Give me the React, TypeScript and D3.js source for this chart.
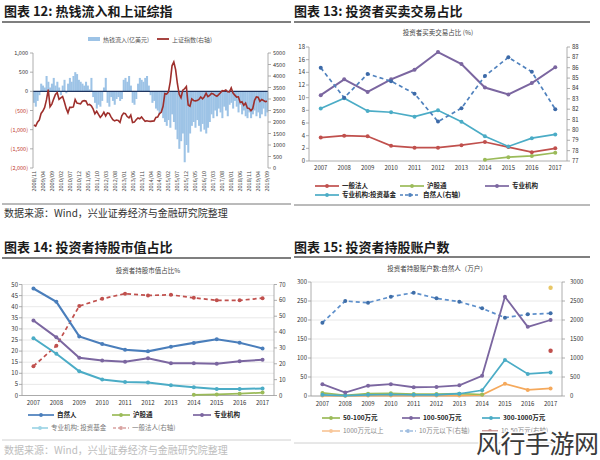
import React from "react";
import * as d3 from "d3";

const FONT = "'Noto Sans CJK SC', 'Noto Sans', sans-serif";

// ---------- Chart 12 data (monthly, 2008/11 - 2019/09) ----------
const hotMoney = [
  -300, -400,
  -250, -100, 200, 150, 100, 400, 250, 100, 200, 350, 150, 250,
  100, -100, 150, 300, -50, 200, 350, 250, 400, 500, 450, 300,
  250, 200, 150, 250, 150, 50, 350, -150, -300, -450, -350, -400,
  -250, 100, 350, -300, -400, -150, -250, -350, -200, -150, -250, -200,
  300, 350, 250, 400, 150, -300, -350, -200, 200, 350, 300, 250,
  350, 400, 150, -100, -300, -250, -450, -500, -600, -550, -700, -800,
  -900, -750, -950, -600, -800, -1000, -1250, -1500, -1300, -1100, -1850, -1400,
  -1600, -1100, -900, -800, -950, -750, -900, -1050, -850, -1000, -1100, -950,
  -800, -600, -700, -500, -650, -450, -550, -700, -400, -500, -650, -350,
  -300, -450, -250, -400, -550, -350, -600, -500, -650, -700, -550, -700,
  -600, -500, -650, -550, -700, -600, -450, -650, -550,
];
const shIndex = [
  1871, 1820,
  1990, 2082, 2373, 2477, 2632, 2959, 3412, 2667, 2779, 2996, 3195, 3277,
  2989, 3051, 3109, 2870, 2592, 2398, 2638, 2638, 2656, 2979, 2820, 2808,
  2790, 2905, 2928, 2911, 2743, 2762, 2701, 2568, 2359, 2468, 2333, 2199,
  2292, 2428, 2263, 2397, 2373, 2225, 2103, 2047, 2086, 2069, 1980, 2269,
  2385, 2366, 2237, 2178, 2301, 1979, 1994, 2098, 2175, 2141, 2221, 2116,
  2033, 2056, 2033, 2026, 2039, 2048, 2202, 2217, 2364, 2420, 2683, 3235,
  3210, 3310, 3748, 4442, 4612, 4277, 3664, 3206, 3053, 3383, 3445, 3539,
  2738, 2688, 3004, 2938, 2917, 2930, 2979, 3085, 3005, 3100, 3250, 3104,
  3159, 3242, 3223, 3155, 3117, 3192, 3273, 3361, 3349, 3393, 3317, 3307,
  3481, 3259, 3169, 3082, 3095, 2847, 2876, 2725, 2821, 2603, 2588, 2494,
  2585, 2941, 3091, 3078, 2899, 2979, 2933, 2886, 2905,
];
const hotTickLabels = [
  "2008/11", "2009/04", "2009/09", "2010/02", "2010/07", "2010/12", "2011/05", "2011/10",
  "2012/03", "2012/08", "2013/01", "2013/06", "2013/11", "2014/04", "2014/09", "2015/02",
  "2015/07", "2015/12", "2016/05", "2016/10", "2017/03", "2017/08", "2018/01", "2018/06",
  "2018/11", "2019/04", "2019/09",
];
const hotLeftTicks = [1000, 500, 0, -500, -1000, -1500, -2000];
const hotLeftTickLabels = ["1,000", "500", "0", "(500)", "(1,000)", "(1,500)", "(2,000)"];
const hotRightTicks = [5000, 4500, 4000, 3500, 3000, 2500, 2000, 1500, 1000, 500, 0];

function monthLabel(i: number) {
  const m = 10 + i;
  const yr = 2008 + Math.floor(m / 12);
  const mo = (m % 12) + 1;
  return `${yr}/${String(mo).padStart(2, "0")}`;
}
const hotMonths = hotMoney.map((_, i) => monthLabel(i));

// ---------- shared years ----------
const years = ["2007", "2008", "2009", "2010", "2011", "2012", "2013", "2014", "2015", "2016", "2017"];

// ---------- Chart 13 data ----------
const tradeCorp = [3.7, 4.0, 3.9, 2.4, 2.1, 2.1, 2.5, 3.0, 2.2, 1.4, 2.0];
const tradeHK = [null, null, null, null, null, null, null, 0.2, 0.6, 0.8, 1.3];
const tradeInst = [10.4, 12.9, 10.9, 12.9, 14.4, 17.2, 15.3, 11.6, 10.5, 12.3, 14.8];
const tradeFund = [8.3, 9.9, 7.9, 7.7, 7.0, 8.0, 6.2, 3.9, 2.3, 3.6, 4.2];
const tradeRetail = [86.0, 83.1, 85.4, 84.7, 83.5, 80.8, 82.1, 85.2, 87.0, 85.6, 82.0];
const tradeLeftTicks = [0, 2, 4, 6, 8, 10, 12, 14, 16, 18];
const tradeRightTicks = [77, 78, 79, 80, 81, 82, 83, 84, 85, 86, 87, 88];

// ---------- Chart 14 data ----------
const holdRetail = [48.2, 42.2, 26.6, 23.2, 20.6, 19.9, 22.0, 23.7, 25.3, 23.8, 21.2];
const holdHK = [null, null, null, null, null, null, null, 0.3, 0.5, 0.8, 1.3];
const holdInst = [33.8, 26.2, 17.0, 15.8, 15.2, 16.8, 14.5, 14.5, 14.3, 15.4, 16.1];
const holdFund = [25.8, 18.8, 10.9, 7.2, 6.1, 5.9, 4.6, 3.7, 2.9, 2.9, 3.2];
const holdCorp = [18.5, 31.4, 56.4, 61.0, 64.2, 63.1, 63.5, 61.6, 60.0, 60.0, 61.4];
const holdLeftTicks = [0, 5, 10, 15, 20, 25, 30, 35, 40, 45, 50];
const holdRightTicks = [0, 10, 20, 30, 40, 50, 60, 70];

// ---------- Chart 15 data ----------
const acct50to100 = [8, 2, 6, 7, 5, 5, 6, 4, null, null, null];
const acct100to500 = [31, 9, 27, 31, 23, 24, 28, 53, 261, 182, 200];
const acct300to1000 = [3, 1, 3, 4, 3, 3, 6, 15, 95, 58, 62];
const acctOver1000 = [1, 0.5, 1, 1, 1, 1, 1, 3, 32, 16, 20];
const acctUnder10 = [1930, 2500, 2455, 2613, 2718, 2570, 2482, 2307, 2061, 2150, 2176];
const acct10to50 = [null, null, null, null, null, null, null, null, null, null, 1190];
const acctOther = [null, null, null, null, null, null, null, null, null, null, 2850];
const acctLeftTicks = [0, 50, 100, 150, 200, 250, 300];
const acctRightTicks = [0, 500, 1000, 1500, 2000, 2500, 3000];

const C = {
  red: "#C0504D",
  green: "#9BBB59",
  purple: "#7B66A0",
  cyan: "#4BACC6",
  blue: "#4A7EBB",
  dblue: "#4F81BD",
  orange: "#F5A95C",
  axis: "#9a9a9a",
  grid: "#e2e2e2",
  text: "#333",
};

type Num = number | null;

function Series({ data, x, y, color, dash, sw = 1.7, r = 2, mColor }: any) {
  const bw = x.bandwidth();
  const pts: [number, number, boolean][] = data.map((v: Num, i: number) => [
    x(years[i]) + bw / 2,
    v == null ? 0 : y(v),
    v != null,
  ]);
  const line = d3
    .line<[number, number, boolean]>()
    .defined((d) => d[2])
    .x((d) => d[0])
    .y((d) => d[1]);
  return (
    <g>
      <path d={line(pts) || ""} fill="none" stroke={color} strokeWidth={sw} strokeDasharray={dash} />
      {pts.filter((p) => p[2]).map((p, i) => (
        <circle key={i} cx={p[0]} cy={p[1]} r={r} fill={mColor || color} />
      ))}
    </g>
  );
}

function LegendItem({ x, y, color, label, dash, bold = true, tcolor = "#222", len = 24, fs = 6.5 }: any) {
  return (
    <g>
      <line x1={x} x2={x + len} y1={y} y2={y} stroke={color} strokeWidth={1.7} strokeDasharray={dash} />
      <circle cx={x + len / 2} cy={y} r={1.9} fill={color} />
      <text x={x + len + 3} y={y + 2.3} fontSize={fs} fontFamily={FONT} fontWeight={bold ? 700 : 400} fill={tcolor}>
        {label}
      </text>
    </g>
  );
}

function YAxis({ x, y, ticks, side, labelX, y0, y1, fs = 6, fmt }: any) {
  const dir = side === "left" ? -1 : 1;
  return (
    <g>
      <line x1={x} x2={x} y1={y0} y2={y1} stroke={C.axis} strokeWidth={0.8} />
      {ticks.map((t: number, i: number) => (
        <g key={i}>
          <line x1={x} x2={x + dir * 3} y1={y(t)} y2={y(t)} stroke={C.axis} strokeWidth={0.8} />
          <text
            x={labelX}
            y={y(t) + 2}
            fontSize={fs}
            fontFamily={FONT}
            fill={C.text}
            textAnchor={side === "left" ? "end" : "start"}
          >
            {fmt ? fmt(t) : t}
          </text>
        </g>
      ))}
    </g>
  );
}

function XLabels({ x, y, fs = 6 }: any) {
  const bw = x.bandwidth();
  return (
    <g>
      {years.map((yr) => (
        <text key={yr} x={x(yr) + bw / 2} y={y} fontSize={fs} fontFamily={FONT} fill={C.text} textAnchor="middle">
          {yr}
        </text>
      ))}
    </g>
  );
}

function Header({ x, y, title, lx1, lx2, ly }: any) {
  return (
    <g>
      <text x={x} y={y} fontSize={13} fontWeight={700} fontFamily={FONT} fill="#1a1a1a">
        {title}
      </text>
      <line x1={lx1} x2={lx2} y1={ly} y2={ly} stroke="#555" strokeWidth={1.3} />
    </g>
  );
}

function Chart12() {
  const x = d3.scaleBand<string>().domain(hotMonths).range([33, 268]).padding(0);
  const bw = x.bandwidth();
  const yL = d3.scaleLinear().domain([-2000, 1000]).range([168, 53]);
  const yR = d3.scaleLinear().domain([0, 5000]).range([168, 53]);
  const line = d3
    .line<number>()
    .x((_, i) => (x(hotMonths[i]) as number) + bw / 2)
    .y((d) => yR(d));
  return (
    <g>
      <Header x={4} y={16} title="图表 12: 热钱流入和上证综指" lx1={2} lx2={291} ly={22} />
      {/* legend */}
      <rect x={88} y={37} width={12} height={4} fill="#9DC3E6" />
      <text x={103} y={41.5} fontSize={6} fontFamily={FONT} fill="#555">热钱流入(亿美元)</text>
      <line x1={157} x2={169} y1={39} y2={39} stroke="#9E2F2C" strokeWidth={1.8} />
      <text x={172} y={41.5} fontSize={6} fontFamily={FONT} fill="#555">上证指数(右轴)</text>
      {hotMoney.map((v, i) => (
        <rect
          key={i}
          x={x(hotMonths[i])}
          width={bw + 0.25}
          y={Math.min(yL(0), yL(v))}
          height={Math.abs(yL(v) - yL(0))}
          fill="#9DC3E6"
        />
      ))}
      <line x1={33} x2={268} y1={yL(0)} y2={yL(0)} stroke="#1F3560" strokeWidth={1.3} />
      <path d={line(shIndex) || ""} fill="none" stroke="#9E2F2C" strokeWidth={1.6} />
      {/* left axis */}
      <line x1={33} x2={33} y1={53} y2={168} stroke={C.axis} strokeWidth={0.8} />
      {hotLeftTicks.map((t, i) => (
        <g key={i}>
          <line x1={30} x2={33} y1={yL(t)} y2={yL(t)} stroke={C.axis} strokeWidth={0.8} />
          <text x={28} y={yL(t) + 2} fontSize={5.5} fontFamily={FONT} textAnchor="end" fill={t < 0 ? "#C0392B" : "#333"}>
            {hotLeftTickLabels[i]}
          </text>
        </g>
      ))}
      {/* right axis */}
      <line x1={268} x2={268} y1={53} y2={168} stroke={C.axis} strokeWidth={0.8} />
      {hotRightTicks.map((t, i) => (
        <g key={i}>
          <line x1={268} x2={271} y1={yR(t)} y2={yR(t)} stroke={C.axis} strokeWidth={0.8} />
          <text x={273} y={yR(t) + 2} fontSize={5.5} fontFamily={FONT} fill="#333">{t}</text>
        </g>
      ))}
      {/* x labels */}
      {hotTickLabels.map((lab) => {
        const cx = (x(lab) as number) + bw / 2;
        return (
          <text
            key={lab}
            transform={`translate(${cx + 2},171) rotate(-90)`}
            fontSize={5.5}
            fontFamily={FONT}
            fill="#444"
            textAnchor="end"
          >
            {lab}
          </text>
        );
      })}
      <line x1={2} x2={291} y1={204} y2={204} stroke="#777" strokeWidth={1} />
      <text x={4} y={217} fontSize={10} fontFamily={FONT} fill="#333">数据来源：Wind，兴业证券经济与金融研究院整理</text>
    </g>
  );
}

function Chart13() {
  const x = d3.scaleBand<string>().domain(years).range([309, 567]).padding(0);
  const yL = d3.scaleLinear().domain([0, 18]).range([161, 47]);
  const yR = d3.scaleLinear().domain([77, 88]).range([161, 47]);
  return (
    <g>
      <Header x={294} y={16} title="图表 13: 投资者买卖交易占比" lx1={294} lx2={590} ly={22} />
      <text x={438} y={35} fontSize={6.5} fontFamily={FONT} fill="#444" textAnchor="middle">投资者买卖交易占比 (%)</text>
      <line x1={309} x2={567} y1={161} y2={161} stroke={C.axis} strokeWidth={0.8} />
      <YAxis x={309} y={yL} ticks={tradeLeftTicks} side="left" labelX={305} y0={47} y1={161} />
      <YAxis x={567} y={yR} ticks={tradeRightTicks} side="right" labelX={572} y0={47} y1={161} />
      <XLabels x={x} y={169.5} />
      <Series data={tradeCorp} x={x} y={yL} color={C.red} />
      <Series data={tradeHK} x={x} y={yL} color={C.green} />
      <Series data={tradeFund} x={x} y={yL} color={C.cyan} />
      <Series data={tradeInst} x={x} y={yL} color={C.purple} sw={2} />
      <Series data={tradeRetail} x={x} y={yR} color={C.dblue} dash="4,3" mColor="#3d6aa8" />
      <LegendItem x={315} y={186} color={C.red} label="一般法人" />
      <LegendItem x={400} y={186} color={C.green} label="沪股通" />
      <LegendItem x={485} y={186} color={C.purple} label="专业机构" />
      <LegendItem x={315} y={195} color={C.cyan} label="专业机构:投资基金" />
      <LegendItem x={400} y={195} color={C.dblue} label="自然人(右轴)" dash="3,2" len={20} />
      <line x1={294} x2={590} y1={205} y2={205} stroke="#777" strokeWidth={1} />
    </g>
  );
}

function Chart14() {
  const x = d3.scaleBand<string>().domain(years).range([22, 274]).padding(0);
  const yL = d3.scaleLinear().domain([0, 50]).range([395.5, 284.5]);
  const yR = d3.scaleLinear().domain([0, 70]).range([395.5, 284.5]);
  return (
    <g>
      <Header x={4} y={252} title="图表 14: 投资者持股市值占比" lx1={2} lx2={291} ly={258} />
      <text x={148} y={273} fontSize={6.5} fontFamily={FONT} fill="#444" textAnchor="middle">投资者持股市值占比%</text>
      {holdLeftTicks.map((t) => (
        <line key={t} x1={22} x2={274} y1={yL(t)} y2={yL(t)} stroke={C.grid} strokeWidth={0.8} />
      ))}
      <line x1={22} x2={274} y1={395.5} y2={395.5} stroke={C.axis} strokeWidth={0.8} />
      <YAxis x={22} y={yL} ticks={holdLeftTicks} side="left" labelX={18} y0={284.5} y1={395.5} />
      <YAxis x={274} y={yR} ticks={holdRightTicks} side="right" labelX={279} y0={284.5} y1={395.5} />
      <XLabels x={x} y={405} />
      <Series data={holdCorp} x={x} y={yR} color={C.red} dash="4,3" />
      <Series data={holdFund} x={x} y={yL} color={C.cyan} sw={2} />
      <Series data={holdInst} x={x} y={yL} color={C.purple} sw={2} />
      <Series data={holdRetail} x={x} y={yL} color={C.blue} sw={2.1} />
      <Series data={holdHK} x={x} y={yL} color={C.green} />
      <LegendItem x={28} y={415} color={C.blue} label="自然人" len={26} />
      <LegendItem x={112} y={415} color={C.green} label="沪股通" len={18} />
      <LegendItem x={193} y={415} color={C.purple} label="专业机构" len={18} />
      <LegendItem x={32} y={428} color="#9fd5e6" label="专业机构: 投资基金" len={16} bold={false} tcolor="#777" />
      <LegendItem x={113} y={428} color="#d9a3a1" label="一般法人(右轴)" len={16} dash="3,2" bold={false} tcolor="#777" />
      <line x1={2} x2={291} y1={440} y2={440} stroke="#d0d0d0" strokeWidth={1} />
      <text x={4} y={454} fontSize={10} fontFamily={FONT} fill="#bdbdbd">数据来源：Wind，兴业证券经济与金融研究院整理</text>
    </g>
  );
}

function Chart15() {
  const x = d3.scaleBand<string>().domain(years).range([311, 562]).padding(0);
  const yL = d3.scaleLinear().domain([0, 300]).range([396, 282]);
  const yR = d3.scaleLinear().domain([0, 3000]).range([396, 282]);
  return (
    <g>
      <Header x={294} y={252} title="图表 15: 投资者持股账户数" lx1={294} lx2={590} ly={257} />
      <text x={437} y={271} fontSize={6.5} fontFamily={FONT} fill="#444" textAnchor="middle">投资者持股账户数:自然人（万户）</text>
      {acctLeftTicks.map((t) => (
        <line key={t} x1={311} x2={562} y1={yL(t)} y2={yL(t)} stroke={C.grid} strokeWidth={0.8} />
      ))}
      <line x1={311} x2={562} y1={396} y2={396} stroke={C.axis} strokeWidth={0.8} />
      <YAxis x={311} y={yL} ticks={acctLeftTicks} side="left" labelX={307} y0={282} y1={396} />
      <YAxis x={562} y={yR} ticks={acctRightTicks} side="right" labelX={570} y0={282} y1={396} />
      <XLabels x={x} y={406} />
      <Series data={acctUnder10} x={x} y={yR} color="#5D8FCB" dash="4,3" mColor="#3f6ea8" />
      <Series data={acctOver1000} x={x} y={yL} color={C.orange} />
      <Series data={acct50to100} x={x} y={yL} color={C.green} />
      <Series data={acct300to1000} x={x} y={yL} color={C.cyan} />
      <Series data={acct100to500} x={x} y={yL} color={C.purple} sw={1.8} />
      <Series data={acct10to50} x={x} y={yR} color={C.red} r={2.2} />
      <Series data={acctOther} x={x} y={yR} color="#E8C766" r={2.2} />
      <LegendItem x={322} y={418} color={C.green} label="50-100万元" len={18} />
      <LegendItem x={402} y={418} color={C.purple} label="100-500万元" len={18} />
      <LegendItem x={482} y={418} color={C.cyan} label="300-1000万元" len={18} />
      <LegendItem x={322} y={431} color="#f8c79a" label="1000万元以上" len={18} bold={false} tcolor="#888" />
      <LegendItem x={400} y={431} color="#9fbde0" label="10万元以下(右轴)" len={16} dash="3,2" bold={false} tcolor="#888" />
      <LegendItem x={482} y={431} color="#c98f8d" label="10-50万元(右轴)" len={16} bold={false} tcolor="#888" />
      <line x1={294} x2={582} y1={443} y2={443} stroke="#d0d0d0" strokeWidth={1} />
    </g>
  );
}

export default function App() {
  return (
    <svg
      width={600}
      height={460}
      viewBox="0 0 600 460"
      style={{ position: "absolute", left: 0, top: 0, background: "#fff" }}
    >
      <rect x={0} y={0} width={600} height={460} fill="#fff" />
      <Chart12 />
      <Chart13 />
      <Chart14 />
      <Chart15 />
      <text
        x={476}
        y={453}
        fontSize={25}
        fontFamily={FONT}
        fill="#3a3a3a"
        stroke="#fff"
        strokeWidth={3}
        paintOrder="stroke"
        letterSpacing={-0.5}
      >
        风行手游网
      </text>
    </svg>
  );
}
